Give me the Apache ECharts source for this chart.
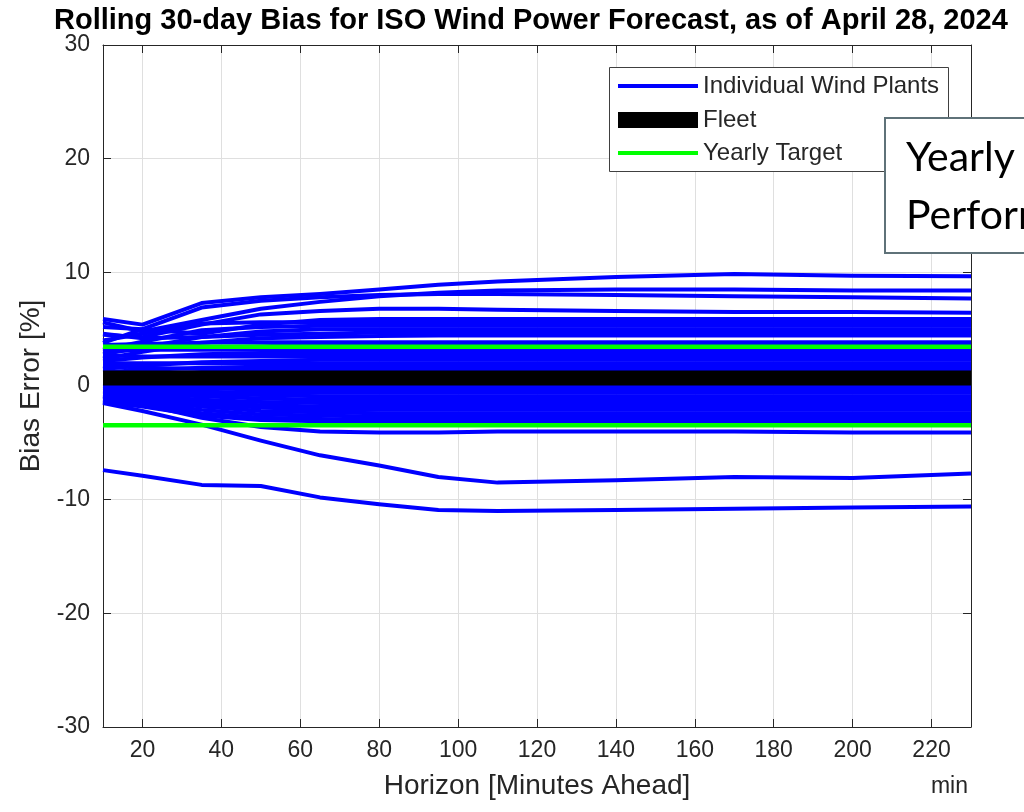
<!DOCTYPE html>
<html><head><meta charset="utf-8">
<script src="https://cdn.jsdelivr.net/npm/echarts@6/dist/echarts.min.js"></script>
<style>html,body{margin:0;padding:0;background:#fff}#c{width:1024px;height:812px}</style>
</head><body><div id="c"></div><script>
// Horizon (minutes ahead)
const horizons = [10, 20, 35, 50, 65, 80, 95, 110, 140, 170, 200, 230];
// Individual wind plants bias (%)
const plant01 = [5.9, 5.4, 7.3, 7.8, 8.1, 8.5, 8.9, 9.2, 9.6, 9.85, 9.7, 9.65];
const plant02 = [5.6, 4.8, 5.8, 6.8, 7.4, 7.9, 8.2, 8.4, 8.5, 8.5, 8.4, 8.4];
const plant03 = [3.8, 5.0, 6.9, 7.5, 7.8, 8.0, 8.1, 8.1, 8.0, 7.9, 7.8, 7.7];
const plant04 = [4.5, 4.3, 5.4, 6.3, 6.6, 6.8, 6.8, 6.7, 6.6, 6.5, 6.5, 6.45];
const plant05 = [5.2, 5.0, 4.6, 5.4, 5.8, 5.9, 5.9, 5.9, 5.9, 5.9, 5.9, 5.9];
const plant06 = [4.0, 4.6, 5.5, 5.6, 5.6, 5.6, 5.6, 5.6, 5.6, 5.6, 5.6, 5.6];
const plant07 = [3.2, 3.9, 4.9, 5.2, 5.3, 5.3, 5.3, 5.3, 5.3, 5.3, 5.3, 5.3];
const plant08 = [2.8, 3.4, 4.3, 4.8, 5.0, 5.0, 5.0, 5.0, 5.0, 5.0, 5.0, 5.0];
const plant09 = [4.6, 4.2, 4.3, 4.5, 4.6, 4.7, 4.7, 4.7, 4.7, 4.75, 4.75, 4.75];
const plant10 = [2.4, 3.0, 3.8, 4.2, 4.3, 4.4, 4.45, 4.45, 4.45, 4.45, 4.45, 4.45];
const plant11 = [3.6, 3.7, 3.8, 3.85, 3.85, 3.85, 3.85, 3.85, 3.85, 3.85, 3.85, 3.85];
const plant12 = [3.0, 3.2, 3.4, 3.5, 3.6, 3.6, 3.6, 3.6, 3.6, 3.6, 3.6, 3.6];
const plant13 = [3.3, 3.2, 3.2, 3.2, 3.2, 3.2, 3.2, 3.2, 3.2, 3.2, 3.2, 3.2];
const plant14 = [2.2, 2.5, 2.8, 2.9, 2.9, 2.9, 2.9, 2.9, 2.9, 2.9, 2.9, 2.9];
const plant15 = [2.7, 2.6, 2.6, 2.6, 2.6, 2.6, 2.6, 2.6, 2.6, 2.6, 2.6, 2.6];
const plant16 = [1.5, 1.8, 2.1, 2.2, 2.3, 2.3, 2.3, 2.3, 2.3, 2.3, 2.3, 2.3];
const plant17 = [2.0, 2.0, 2.0, 2.0, 2.0, 2.0, 2.0, 2.0, 2.0, 2.0, 2.0, 2.0];
const plant18 = [1.2, 1.4, 1.6, 1.7, 1.7, 1.7, 1.7, 1.7, 1.7, 1.7, 1.7, 1.7];
const plant19 = [1.8, 1.6, 1.5, 1.4, 1.4, 1.4, 1.4, 1.4, 1.4, 1.4, 1.4, 1.4];
const plant20 = [1.0, 1.0, 1.1, 1.1, 1.1, 1.1, 1.1, 1.1, 1.1, 1.1, 1.1, 1.1];
const plant21 = [0.2, 0.1, 0.0, 0.0, 0.0, 0.0, 0.0, 0.0, 0.0, 0.0, 0.0, 0.0];
const plant22 = [0.0, -0.1, -0.2, -0.3, -0.3, -0.3, -0.3, -0.3, -0.3, -0.3, -0.3, -0.3];
const plant23 = [-0.2, -0.3, -0.5, -0.6, -0.6, -0.6, -0.6, -0.6, -0.6, -0.6, -0.6, -0.6];
const plant24 = [-0.4, -0.5, -0.7, -0.8, -0.9, -0.9, -0.9, -0.9, -0.9, -0.9, -0.9, -0.9];
const plant25 = [-0.5, -0.7, -0.9, -1.1, -1.2, -1.2, -1.2, -1.2, -1.2, -1.2, -1.2, -1.2];
const plant26 = [-0.7, -0.9, -1.2, -1.4, -1.5, -1.5, -1.5, -1.5, -1.5, -1.5, -1.5, -1.5];
const plant27 = [-0.8, -1.0, -1.4, -1.7, -1.8, -1.8, -1.8, -1.8, -1.8, -1.8, -1.8, -1.8];
const plant28 = [-1.0, -1.2, -1.6, -1.9, -2.1, -2.1, -2.1, -2.1, -2.1, -2.1, -2.1, -2.1];
const plant29 = [-1.1, -1.3, -1.8, -2.2, -2.3, -2.4, -2.4, -2.4, -2.4, -2.4, -2.4, -2.4];
const plant30 = [-1.2, -1.5, -2.1, -2.5, -2.6, -2.7, -2.7, -2.7, -2.7, -2.7, -2.7, -2.7];
const plant31 = [-1.3, -1.7, -2.4, -2.8, -2.9, -3.0, -3.0, -3.0, -3.0, -3.0, -3.0, -3.0];
const plant32 = [-1.4, -1.8, -2.6, -3.0, -3.1, -3.2, -3.2, -3.2, -3.2, -3.2, -3.25, -3.25];
const plant33 = [-0.9, -1.6, -2.8, -3.6, -4.0, -4.1, -4.1, -4.0, -4.0, -4.0, -4.1, -4.1];
const plant34 = [-1.5, -2.2, -3.4, -4.8, -6.1, -7.0, -8.0, -8.5, -8.3, -8.0, -8.1, -7.7];
const plant35 = [-7.4, -7.9, -8.7, -8.8, -9.8, -10.4, -10.9, -11.0, -10.9, -10.8, -10.7, -10.6];
const plants = [plant01, plant02, plant03, plant04, plant05, plant06, plant07, plant08, plant09, plant10,
  plant11, plant12, plant13, plant14, plant15, plant16, plant17, plant18, plant19, plant20,
  plant21, plant22, plant23, plant24, plant25, plant26, plant27, plant28, plant29, plant30,
  plant31, plant32, plant33, plant34, plant35];
const fleetBias = [0.7, 0.7, 0.7, 0.7, 0.7, 0.7, 0.7, 0.7, 0.7, 0.7, 0.7, 0.7];
const targetHigh = [3.45, 3.45, 3.45, 3.45, 3.45, 3.45, 3.45, 3.45, 3.45, 3.45, 3.45, 3.45];
const targetLow = [-3.45, -3.45, -3.45, -3.45, -3.45, -3.45, -3.45, -3.45, -3.45, -3.45, -3.45, -3.45];

const FONT = "'Liberation Sans', Arial, Helvetica, sans-serif";
const AX = '#262626';
const pair = arr => horizons.map((h, i) => [h, arr[i]]);

const series = [];
plants.forEach(p => series.push({
  type: 'line', name: 'Individual Wind Plants', data: pair(p), symbol: 'none', showSymbol: false,
  lineStyle: { color: '#0000ff', width: 4, join: 'round' }, itemStyle: { color: '#0000ff' }, z: 2
}));
series.push({ type: 'line', name: 'Fleet', data: pair(fleetBias), symbol: 'none',
  lineStyle: { color: '#000000', width: 15 }, itemStyle: { color: '#000000' }, z: 3 });
[targetHigh, targetLow].forEach(t => series.push({ type: 'line', name: 'Yearly Target', data: pair(t), symbol: 'none',
  lineStyle: { color: '#00ff00', width: 4.5 }, itemStyle: { color: '#00ff00' }, z: 3 }));

const legendBase = { orient: 'horizontal', left: 618, padding: 0, itemWidth: 80, icon: 'rect', selectedMode: false,
  textStyle: { fontSize: 24, color: AX, fontFamily: FONT }, z: 4 };

const chart = echarts.init(document.getElementById('c'), null, { renderer: 'canvas' });
chart.setOption({
  animation: false,
  backgroundColor: '#ffffff',
  title: { text: 'Rolling 30-day Bias for ISO Wind Power Forecast, as of April 28, 2024', left: 54, top: 6, padding: 0,
    textStyle: { fontSize: 29, fontWeight: 'bold', color: '#000', fontFamily: FONT } },
  grid: { left: 103, right: 53, top: 45, bottom: 85, containLabel: false },
  legend: [
    Object.assign({}, legendBase, { data: ['Individual Wind Plants'], top: 74, itemHeight: 4 }),
    Object.assign({}, legendBase, { data: ['Fleet'], top: 108, itemHeight: 16 }),
    Object.assign({}, legendBase, { data: ['Yearly Target'], top: 141, itemHeight: 4 })
  ],
  xAxis: [
    { type: 'value', min: 10, max: 230, splitNumber: 11, position: 'bottom',
      axisLine: { show: true, onZero: false, lineStyle: { color: AX, width: 1 } },
      axisTick: { show: true, inside: true, length: 8, lineStyle: { color: AX } },
      axisLabel: { fontSize: 23, color: AX, margin: 12, showMinLabel: false, showMaxLabel: false, fontFamily: FONT },
      splitLine: { show: true, lineStyle: { color: '#dfdfdf', width: 1 } },
      name: 'Horizon [Minutes Ahead]', nameLocation: 'middle', nameGap: 45,
      nameTextStyle: { fontSize: 28, color: AX, fontFamily: FONT } },
    { type: 'value', min: 10, max: 230, splitNumber: 11, position: 'top',
      axisLine: { show: true, onZero: false, lineStyle: { color: AX, width: 1 } },
      axisTick: { show: true, inside: true, length: 8, lineStyle: { color: AX } },
      axisLabel: { show: false }, splitLine: { show: false } }
  ],
  yAxis: [
    { type: 'value', min: -30, max: 30, interval: 10, position: 'left',
      axisLine: { show: true, onZero: false, lineStyle: { color: AX, width: 1 } },
      axisTick: { show: true, inside: true, length: 8, lineStyle: { color: AX } },
      axisLabel: { fontSize: 23, color: AX, margin: 13, fontFamily: FONT },
      splitLine: { show: true, lineStyle: { color: '#dfdfdf', width: 1 } },
      name: 'Bias Error [%]', nameLocation: 'middle', nameGap: 58,
      nameTextStyle: { fontSize: 28, color: AX, fontFamily: FONT } },
    { type: 'value', min: -30, max: 30, interval: 10, position: 'right',
      axisLine: { show: true, onZero: false, lineStyle: { color: AX, width: 1 } },
      axisTick: { show: true, inside: true, length: 8, lineStyle: { color: AX } },
      axisLabel: { show: false }, splitLine: { show: false } }
  ],
  graphic: [
    { type: 'rect', z: 3, shape: { x: 609.5, y: 67.5, width: 339, height: 104 },
      style: { fill: '#ffffff', stroke: '#404040', lineWidth: 1 } },
    { type: 'rect', z: 10, shape: { x: 885, y: 118, width: 200, height: 135 },
      style: { fill: '#ffffff', stroke: '#5f7279', lineWidth: 2 } },
    { type: 'text', z: 11, x: 906, y: 158,
      style: { text: 'Yearly', fill: '#000', font: "41px Lato, 'Open Sans', sans-serif", verticalAlign: 'middle' } },
    { type: 'text', z: 11, x: 906, y: 216,
      style: { text: 'Performance', fill: '#000', font: "41px Lato, 'Open Sans', sans-serif", verticalAlign: 'middle' } },
    { type: 'text', z: 11, x: 968, y: 787,
      style: { text: 'min', fill: AX, font: "23px " + FONT, align: 'right', verticalAlign: 'middle' } }
  ],
  series: series
});
</script></body></html>
